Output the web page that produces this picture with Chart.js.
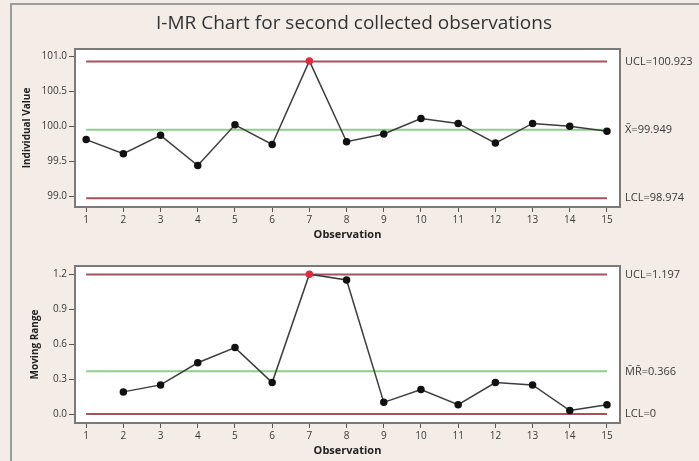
<!DOCTYPE html>
<html>
<head>
<meta charset="utf-8">
<script src="https://cdn.jsdelivr.net/npm/chart.js@4/dist/chart.umd.min.js"></script>
<style>
  html, body { margin: 0; padding: 0; }
  #wrap { position: relative; width: 699px; height: 461px; background: #f3ece7; overflow: hidden; }
  #frame { position: absolute; left: 10px; top: 3px; width: 720px; height: 480px;
           border-left: 2px solid #9c9c9c; border-top: 2px solid #9c9c9c; }
  .holder { position: absolute; left: 0; width: 699px; }
</style>
</head>
<body>
<div id="wrap">
  <div id="frame"></div>
  <div class="holder" style="top:0;height:245px"><canvas id="iChart" width="699" height="245"></canvas></div>
  <div class="holder" style="top:245px;height:216px"><canvas id="mrChart" width="699" height="216"></canvas></div>
</div>
<script>
// observations and values
const observations = [1, 2, 3, 4, 5, 6, 7, 8, 9, 10, 11, 12, 13, 14, 15];
const individualValues = [99.81, 99.61, 99.87, 99.44, 100.02, 99.74, 100.93, 99.78, 99.89, 100.11, 100.04, 99.76, 100.04, 100.00, 99.93];
const movingRanges = [null, 0.19, 0.25, 0.44, 0.57, 0.27, 1.20, 1.15, 0.10, 0.21, 0.08, 0.27, 0.25, 0.03, 0.08];
const flaggedObs = [7];

const iTicks = [99.0, 99.5, 100.0, 100.5, 101.0];
const mrTicks = [0.0, 0.3, 0.6, 0.9, 1.2];

const iLimits = [100.923, 99.949, 98.974];
const iLimitLabels = ['UCL=100.923', 'X\u0304=99.949', 'LCL=98.974'];
const mrLimits = [1.197, 0.366, 0];
const mrLimitLabels = ['UCL=1.197', 'M\u0304R\u0304=0.366', 'LCL=0'];

const chartTitle = 'I-MR Chart for second collected observations';
const limitColors = ['#a4525c', '#8ccf8c', '#a4525c'];

Chart.defaults.font.family = "'Open Sans', sans-serif";
Chart.defaults.font.size = 10;
Chart.defaults.color = '#3a3a3a';

// white plot area with grey frame, like minitab
const boxPlugin = {
  id: 'box',
  beforeDraw(chart) {
    const a = chart.chartArea, c = chart.ctx;
    c.save();
    c.fillStyle = '#ffffff';
    c.fillRect(a.left, a.top, a.right - a.left, a.bottom - a.top);
    c.restore();
  },
  afterDraw(chart) {
    const a = chart.chartArea, c = chart.ctx;
    c.save();
    c.strokeStyle = '#7a7a7a';
    c.lineWidth = 2;
    c.strokeRect(a.left, a.top, a.right - a.left, a.bottom - a.top);
    c.restore();
  }
};

// page title sits centred on the whole picture, not on the plot
const titlePlugin = {
  id: 'pageTitle',
  afterDraw(chart) {
    const c = chart.ctx;
    c.save();
    c.font = "19px 'Open Sans', sans-serif";
    c.fillStyle = '#333333';
    c.textAlign = 'center';
    c.textBaseline = 'middle';
    c.fillText(chartTitle, 354, 24);
    c.restore();
  }
};

function limitLabelPlugin(values, labels) {
  return {
    id: 'limitLabels',
    afterDraw(chart) {
      const c = chart.ctx, y = chart.scales.y;
      c.save();
      c.font = "11px 'Open Sans', sans-serif";
      c.fillStyle = '#3a3a3a';
      c.textBaseline = 'middle';
      values.forEach((v, i) => {
        c.fillText(labels[i], chart.chartArea.right + 5, y.getPixelForValue(v));
      });
      c.restore();
    }
  };
}

function pointColors() {
  return observations.map(o => flaggedObs.includes(o) ? '#dc2f3c' : '#111111');
}

function buildChart(id, values, limits, labels, opts) {
  const series = observations.map((o, i) => ({ x: o, y: values[i] }));
  const datasets = [{
    data: series,
    borderColor: '#3c3c3c',
    borderWidth: 1.5,
    pointRadius: 3,
    pointBackgroundColor: pointColors(),
    pointBorderColor: pointColors(),
    order: 0
  }];
  limits.forEach((v, i) => {
    datasets.push({
      data: [{ x: observations[0], y: v }, { x: observations[observations.length - 1], y: v }],
      borderColor: limitColors[i],
      borderWidth: 2,
      pointRadius: 0,
      order: 1
    });
  });

  const plugins = [boxPlugin, limitLabelPlugin(limits, labels)];
  if (opts.withTitle) plugins.push(titlePlugin);

  return new Chart(document.getElementById(id), {
    type: 'line',
    data: { datasets },
    plugins: plugins,
    options: {
      responsive: false,
      animation: false,
      layout: { padding: opts.padding },
      plugins: {
        legend: { display: false },
        tooltip: { enabled: false }
      },
      scales: {
        x: {
          type: 'linear',
          min: 0.7,
          max: 15.35,
          afterBuildTicks: s => { s.ticks = observations.map(v => ({ value: v })); },
          afterFit: s => { s.height = 38; },
          grid: { drawOnChartArea: false, drawTicks: true, tickLength: 5, color: '#555' },
          border: { display: false },
          ticks: { padding: 2, autoSkip: false, maxRotation: 0 },
          title: { display: true, text: 'Observation', font: { size: 11, weight: 'bold' },
                   color: '#222', padding: { top: 0, bottom: 4 } }
        },
        y: {
          min: opts.yMin,
          max: opts.yMax,
          afterBuildTicks: s => { s.ticks = opts.ticks.map(v => ({ value: v })); },
          afterFit: s => { s.width = opts.yWidth; },
          grid: { drawOnChartArea: false, drawTicks: true, tickLength: 6, color: '#555' },
          border: { display: false },
          ticks: { padding: 2, callback: v => v.toFixed(1) },
          title: { display: true, text: opts.yTitle, font: { size: 10, weight: 'bold' },
                   color: '#222', padding: { top: 4, bottom: 4 } }
        }
      }
    }
  });
}

buildChart('iChart', individualValues, iLimits, iLimitLabels, {
  padding: { left: 17, right: 79, top: 49, bottom: 0 },
  withTitle: true,
  yMin: 98.85, yMax: 101.1, ticks: iTicks, yWidth: 58, yTitle: 'Individual Value'
});

buildChart('mrChart', movingRanges, mrLimits, mrLimitLabels, {
  padding: { left: 25, right: 79, top: 21, bottom: 0 },
  withTitle: false,
  yMin: -0.077, yMax: 1.27, ticks: mrTicks, yWidth: 50, yTitle: 'Moving Range'
});
</script>
</body>
</html>
